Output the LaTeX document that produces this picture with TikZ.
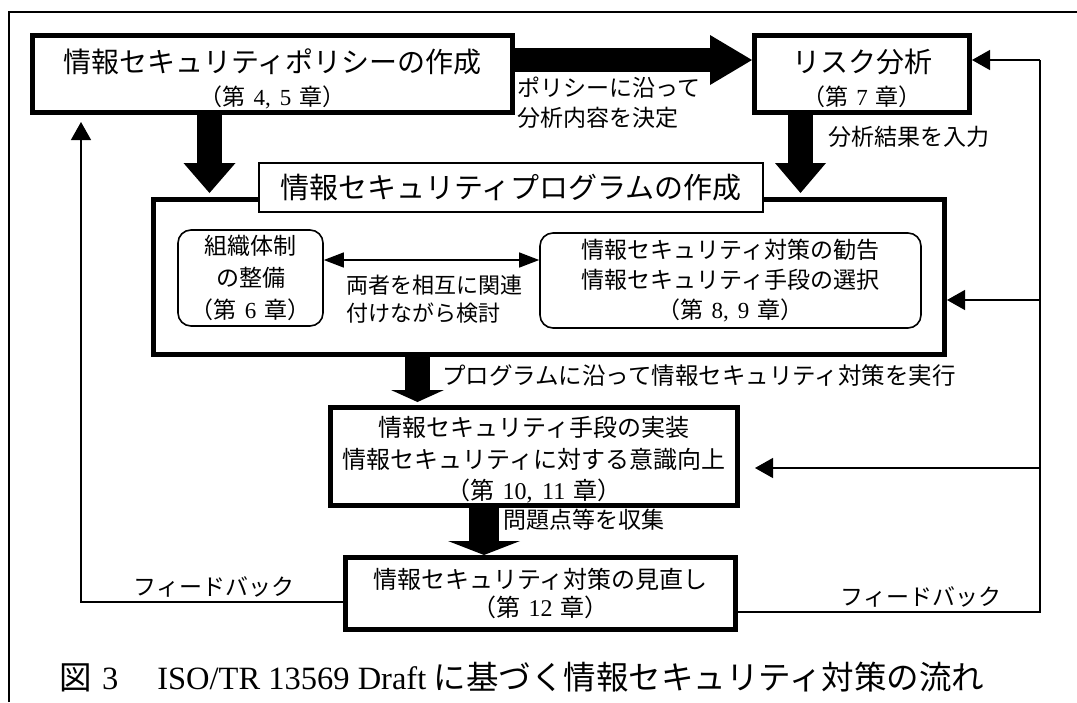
\documentclass[tikz,border=0pt]{standalone}
\usepackage{fontspec}
\setmainfont{Noto Sans CJK JP}
\newfontfamily\lat{Liberation Serif}
\usetikzlibrary{arrows.meta,calc}
\newcommand\fs[2]{\fontsize{#1}{#2}\selectfont}
\newcommand\chap[1]{（第\hspace{.35em}{\lat #1}\hspace{.35em}章）}
\begin{document}
\begin{tikzpicture}[x=1pt,y=-1pt,
  tbox/.style={draw, line width=5pt, fill=white, align=center, inner sep=0pt},
  ttl/.style={draw, line width=1.8pt, fill=white, align=center, inner sep=0pt},
  rbx/.style={draw, line width=1.6pt, rounded corners=13pt, align=center, fill=white, inner sep=0pt},
  fat/.style n args={3}{line width=#1, -{Triangle[length=#2, width=#3, line width=0pt]}},
  fb/.style={line width=1.3pt, -{Triangle[length=18pt,width=20pt]}},
  fbl/.style={line width=1.3pt},
  lbl/.style={inner sep=0pt, align=left, font=\fs{23}{30}}]
\useasboundingbox (0,0) rectangle (1077,702);
% frame
\draw[line width=2pt] (9,702) -- (9,12) -- (1077,12);
% boxes
\node[tbox, minimum width=480pt, minimum height=77pt, font=\fs{23}{33}] (pol) at (272.5,74)
  {{\fs{28}{33}\rule{0pt}{33pt}情報セキュリティポリシーの作成}\\\chap{4,\hspace{.4em}5}};
\node[tbox, minimum width=215pt, minimum height=77pt, font=\fs{23}{33}] (risk) at (862,74)
  {{\fs{28}{33}\rule{0pt}{33pt}リスク分析}\\\chap{7}};
\node[tbox, minimum width=791pt, minimum height=155pt] (prog) at (549,277) {};
\node[ttl, minimum width=504pt, minimum height=49pt, font=\fs{29}{34}] (ptitle) at (511,187.5)
  {情報セキュリティプログラムの作成};
\node[rbx, minimum width=145pt, minimum height=96pt, font=\fs{23}{32}] (org) at (250.5,278)
  {組織体制\\の整備\\\chap{6}};
\node[rbx, minimum width=381pt, minimum height=95pt, font=\fs{23}{30}] (rec) at (730.5,280.5)
  {情報セキュリティ対策の勧告\\情報セキュリティ手段の選択\\\chap{8,\hspace{.4em}9}};
\node[tbox, minimum width=407pt, minimum height=98pt, font=\fs{24}{31.5}] (impl) at (534,456.5)
  {\rule{0pt}{27pt}情報セキュリティ手段の実装\\情報セキュリティに対する意識向上\\\chap{10,\hspace{.4em}11}};
\node[tbox, minimum width=390pt, minimum height=72pt, font=\fs{24}{28}] (review) at (540.5,593.5)
  {情報セキュリティ対策の見直し\\\chap{12}};
% fat arrows
\draw[fat={24pt}{42pt}{50pt}] ([yshift=14pt]pol.east) -- ([yshift=14pt]risk.west);
\draw[fat={25pt}{30pt}{52pt}, shorten >=4pt] ([xshift=-63pt]pol.south) -- ([xshift=-63pt]pol.south |- prog.north);
\draw[fat={25pt}{30pt}{51pt}, shorten >=4pt] ([xshift=-61.5pt]risk.south) -- ([xshift=-61.5pt]risk.south |- prog.north);
\draw[fat={25pt}{12pt}{53pt}, shorten >=3pt] ([xshift=-131.5pt]prog.south) -- ([xshift=-131.5pt]prog.south |- impl.north);
\draw[fat={30pt}{14pt}{72pt}] ([xshift=-50pt]impl.south) -- ([xshift=-50pt]impl.south |- review.north);
% double arrow
\coordinate (dbl) at (0,260);
\draw[line width=1.3pt, {Triangle[length=20pt,width=15pt]}-{Triangle[length=20pt,width=15pt]}]
  (org.east |- dbl) -- (rec.west |- dbl);
% feedback lines
\coordinate (rtop) at (1040,60);
\coordinate (rmid) at (1040,300);
\coordinate (rlow) at (1040,468);
\draw[fbl] ([yshift=-18.5pt]review.east) -| (rtop);
\draw[fb] (rtop) -- (risk.east |- rtop);
\draw[fb] (rmid) -- (prog.east |- rmid);
\draw[fb, shorten >=15pt] (rlow) -- (impl.east |- rlow);
\draw[fb, shorten >=7pt] ([yshift=-8.5pt]review.west) -| ([xshift=-191.5pt]pol.south);
% labels
\node[lbl, anchor=west] (l1) at (517,103) {ポリシーに沿って\\分析内容を決定};
\node[lbl, anchor=west] (l2) at (828,137) {分析結果を入力};
\node[lbl, anchor=west, font=\fs{22}{28}] (l3) at (346,299) {両者を相互に関連\\付けながら検討};
\node[lbl, anchor=west, font=\fs{23.5}{30}] (l4) at (442,376) {プログラムに沿って情報セキュリティ対策を実行};
\node[lbl, anchor=west] (l5) at (503,520) {問題点等を収集};
\node[lbl] (fb1) at (214,587) {フィードバック};
\node[lbl] (fb2) at (921,597) {フィードバック};
% caption
\node[inner sep=0pt, font=\fs{32.5}{38}] (cap) at (522,677)
  {図\hspace{.3em}{\lat 3}\hspace{1.2em}{\lat ISO/TR 13569 Draft} に基づく情報セキュリティ対策の流れ};
\end{tikzpicture}
\end{document}
